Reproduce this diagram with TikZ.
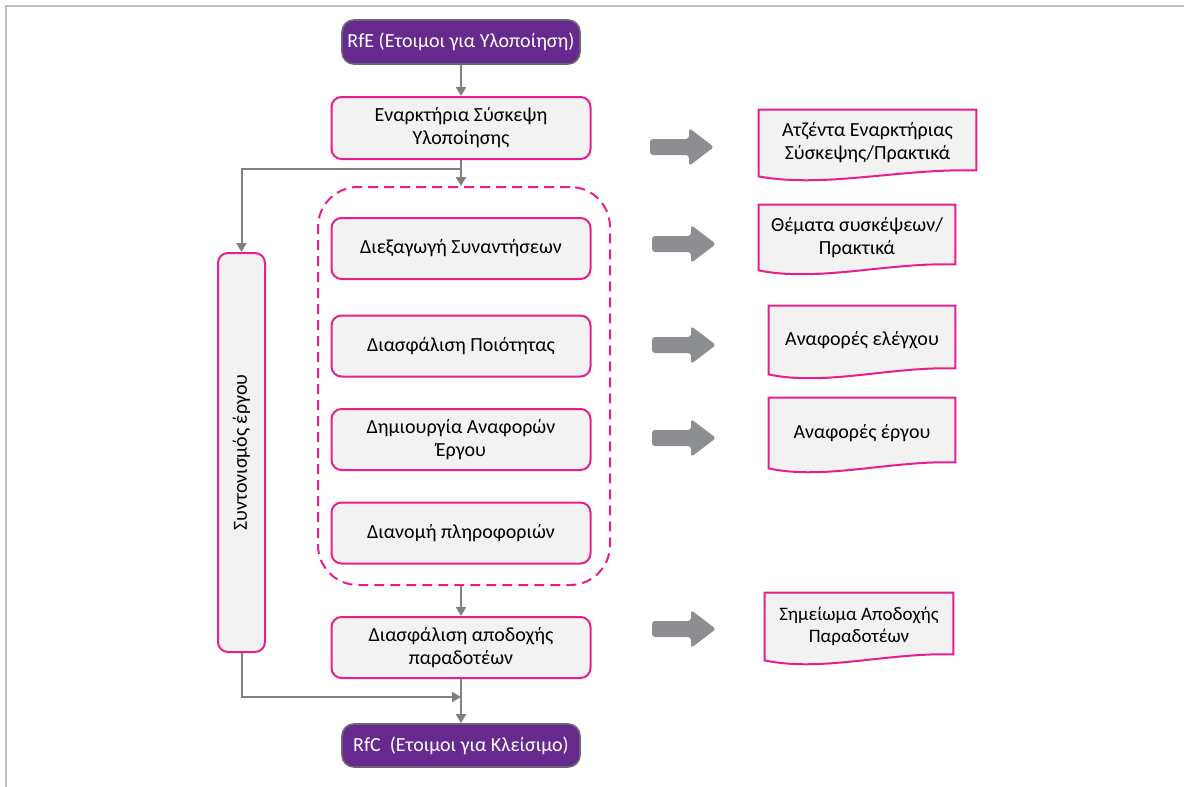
\documentclass[tikz,border=0pt]{standalone}
\usepackage{fontspec}
\setmainfont{Carlito}
\usetikzlibrary{arrows.meta,calc,backgrounds}

\definecolor{pinkline}{RGB}{233,30,140}
\definecolor{boxfill}{RGB}{242,242,242}
\definecolor{purplefill}{RGB}{102,42,142}
\definecolor{purplerim}{RGB}{110,100,115}
\definecolor{connector}{RGB}{128,128,128}
\definecolor{blockgray}{RGB}{140,142,145}
\definecolor{framegray}{RGB}{191,191,191}

% document symbol with a wavy lower edge, drawn around a named node
\newcommand\drawdocument[1]{%
  \draw[docdraw] (#1.north west) -- (#1.north east) -- ($(#1.south east)+(0,-6)$)
    .. controls ($(#1.south west)!0.65!(#1.south east)+(0,-8)$)
    and ($(#1.south west)!0.3!(#1.south east)+(0,12)$) .. (#1.south west) -- cycle;}

\begin{document}
\begin{tikzpicture}[x=0.5pt,y=-0.5pt,
  every node/.style={font=\fontsize{10}{11.5}\selectfont, inner sep=0pt},
  stepbox/.style={draw=pinkline, line width=1pt, fill=boxfill, rounded corners=5pt,
    minimum width=129.5pt, minimum height=30.5pt, align=center},
  milestone/.style={draw=purplerim, line width=0.8pt, fill=purplefill, text=white,
    rounded corners=6pt, minimum width=119pt, minimum height=22pt},
  conn/.style={draw=connector, line width=1pt, -{Triangle[width=5pt,length=4.5pt]}},
  group/.style={draw=pinkline, line width=1pt, dash pattern=on 5pt off 3pt,
    rounded corners=20pt, minimum width=146pt, minimum height=199pt},
  docbox/.style={align=center},
  docdraw/.style={draw=pinkline, line width=1pt, fill=boxfill},
  blockarrow/.pic={\fill[blockgray, rounded corners=1.5pt]
    (0,-8) -- (39,-8) -- (39,-19) -- (64,0) -- (39,19) -- (39,8) -- (0,8) -- cycle;}
]
\useasboundingbox (0,0) rectangle (1184,787);

% outer frame
\draw[framegray, line width=1pt] (6,787) -- (6,6) -- (1184,6);

% main flow
\node[milestone] (rfe) at (461,42) {RfE (Ετοιμοι για Υλοποίηση)};
\node[stepbox, minimum height=31pt] (kick) at (461,128) {Εναρκτήρια Σύσκεψη\\Υλοποίησης};
\node[group] (grp) at (464,386) {};
\node[stepbox] (meet) at (461,248.5) {Διεξαγωγή Συναντήσεων};
\node[stepbox] (qa) at (461,346) {Διασφάλιση Ποιότητας};
\node[stepbox] (rep) at (461,439.5) {Δημιουργία Αναφορών\\Έργου};
\node[stepbox] (info) at (461,533) {Διανομή πληροφοριών};
\node[stepbox] (accept) at (461,647.5) {Διασφάλιση αποδοχής\\παραδοτέων};
\node[milestone, minimum height=21.5pt] (rfc) at (461,745.5) {RfC\ \ (Ετοιμοι για Κλείσιμο)};

% coordination bar
\node[stepbox, rotate=90, minimum width=199.5pt, minimum height=23.5pt] (coord) at (241.5,452.5) {Συντονισμός έργου};

% connectors
\coordinate (split) at ($(kick.south)+(0,9)$);
\coordinate (merge) at ($(accept.south)+(0,18)$);
\draw[conn] (rfe.south) -- (kick.north);
\draw[conn] (kick.south) -- (kick.south |- grp.north);
\draw[conn] (split) -| (coord.east);
\draw[conn] (grp.south -| accept.north) -- (accept.north);
\draw[conn] (accept.south) -- (rfc.north);
\draw[conn] (coord.west) |- (merge);

% outputs
\node[docbox, minimum width=108.5pt, minimum height=33pt] (agenda) at (867.5,143) {Ατζέντα Εναρκτήριας\\Σύσκεψης/Πρακτικά};
\node[docbox, minimum width=98pt, minimum height=32.5pt] (topics) at (857,237.5) {Θέματα συσκέψεων/\\Πρακτικά};
\node[docbox, minimum width=93pt, minimum height=34pt] (checks) at (862,340) {Αναφορές ελέγχου};
\node[docbox, minimum width=93pt, minimum height=35pt] (reports) at (862,433) {Αναφορές έργου};
\node[docbox, minimum width=94pt, minimum height=33.5pt, font=\fontsize{9.5}{11}\selectfont] (receipt) at (859,626.5) {Σημείωμα Αποδοχής\\Παραδοτέων};
\begin{scope}[on background layer]
  \drawdocument{agenda}
  \drawdocument{topics}
  \drawdocument{checks}
  \drawdocument{reports}
  \drawdocument{receipt}
\end{scope}

% block arrows towards the outputs
\pic at (650,147) {blockarrow};
\pic at (652,244) {blockarrow};
\pic at (652,345) {blockarrow};
\pic at (652,438) {blockarrow};
\pic at (652,629) {blockarrow};
\end{tikzpicture}
\end{document}
